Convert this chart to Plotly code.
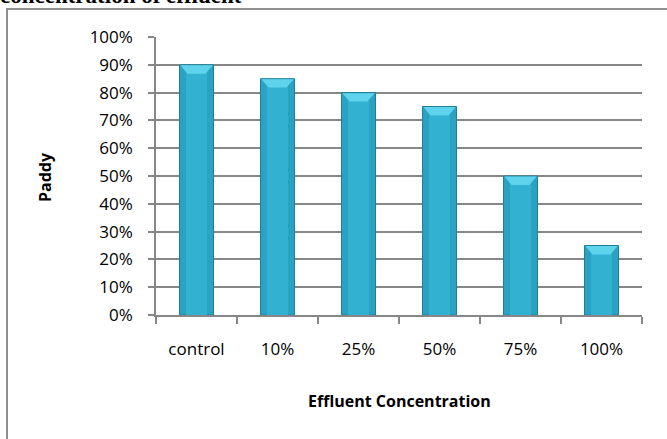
import plotly.graph_objects as go

# Germination of paddy at each effluent concentration
categories = ["control", "10%", "25%", "50%", "75%", "100%"]
germination = [0.90, 0.85, 0.80, 0.75, 0.50, 0.25]
y_ticks = [i / 10 for i in range(11)]
y_tick_labels = [f"{i * 10}%" for i in range(11)]

W, H = 667, 439
L, R, T, B = 156, 25, 37, 124
plot_w = W - L - R
plot_h = H - T - B


def px_x(p):
    return (p - L) / plot_w


def px_y(p):
    return (H - B - p) / plot_h


GRID = "#878787"
TEXT_FONT = "Open Sans, Liberation Sans, sans-serif"
BAR_W = 0.42

fig = go.Figure()

# main bar body
fig.add_trace(go.Bar(
    x=categories, y=germination,
    width=BAR_W,
    marker=dict(color="#2aa3c3", line=dict(color="#1f7f99", width=1)),
    hoverinfo="skip",
))
# lighter inner sheen
fig.add_trace(go.Bar(
    x=categories, y=[v - 0.012 for v in germination],
    width=0.26,
    marker=dict(color="#33b1d1", line=dict(width=0)),
    hoverinfo="skip",
))

# bevelled highlight on each bar top, on a numeric overlay axis
bevel_x, bevel_y = [], []
for i, v in enumerate(germination):
    half = BAR_W / 2 - 0.01
    inner = half * 0.55
    bevel_x += [i - half, i + half, i + inner, i - inner, i - half, None]
    bevel_y += [v - 0.002, v - 0.002, v - 0.032, v - 0.032, v - 0.002, None]
fig.add_trace(go.Scatter(
    x=bevel_x, y=bevel_y, xaxis="x2", yaxis="y",
    mode="lines", fill="toself", fillcolor="#5fd3ec",
    line=dict(width=0), hoverinfo="skip",
))

fig.update_layout(
    width=W, height=H,
    margin=dict(l=L, r=R, t=T, b=B),
    paper_bgcolor="white", plot_bgcolor="white",
    showlegend=False,
    barmode="overlay",
    font=dict(family=TEXT_FONT, size=17, color="#000000"),
    xaxis=dict(
        type="category",
        showline=True, linecolor=GRID, linewidth=1.5,
        ticks="outside", ticklen=7, tickcolor=GRID, tickwidth=1.5,
        tickson="boundaries",
        showgrid=False,
        tickfont=dict(size=17, family=TEXT_FONT),
        ticklabelstandoff=18,
    ),
    xaxis2=dict(
        overlaying="x", anchor="y",
        range=[-0.5, len(categories) - 0.5],
        visible=False, fixedrange=True,
    ),
    yaxis=dict(
        range=[0, 1.0],
        tickvals=y_ticks, ticktext=y_tick_labels,
        showline=True, linecolor=GRID, linewidth=1.5,
        ticks="outside", ticklen=6, tickcolor=GRID, tickwidth=1.5,
        showgrid=True, gridcolor=GRID, gridwidth=1.5,
        zeroline=False,
        tickfont=dict(size=17, family=TEXT_FONT),
        ticklabelstandoff=12,
    ),
)

# axis titles
fig.add_annotation(
    text="<b>Effluent Concentration</b>",
    xref="paper", yref="paper", x=px_x(399), y=px_y(401),
    xanchor="center", yanchor="middle", showarrow=False,
    font=dict(size=16, family=TEXT_FONT),
)
fig.add_annotation(
    text="<b>Paddy</b>",
    xref="paper", yref="paper", x=px_x(45), y=px_y(177),
    xanchor="center", yanchor="middle", showarrow=False, textangle=-90,
    font=dict(size=16, family=TEXT_FONT),
)

# caption line running above the chart frame
fig.add_annotation(
    text="<b>concentration of effluent</b>",
    xref="paper", yref="paper", x=px_x(-2), y=px_y(-5),
    xanchor="left", yanchor="middle", showarrow=False,
    font=dict(size=23, family="Liberation Serif, Times New Roman, serif"),
)

# chart frame (top and left edges visible)
fig.add_shape(
    type="rect", xref="paper", yref="paper",
    x0=px_x(7), x1=px_x(W + 20), y0=px_y(9), y1=px_y(H + 20),
    line=dict(color="#8f8f8f", width=2), layer="below",
)

fig.write_html("out.html")
